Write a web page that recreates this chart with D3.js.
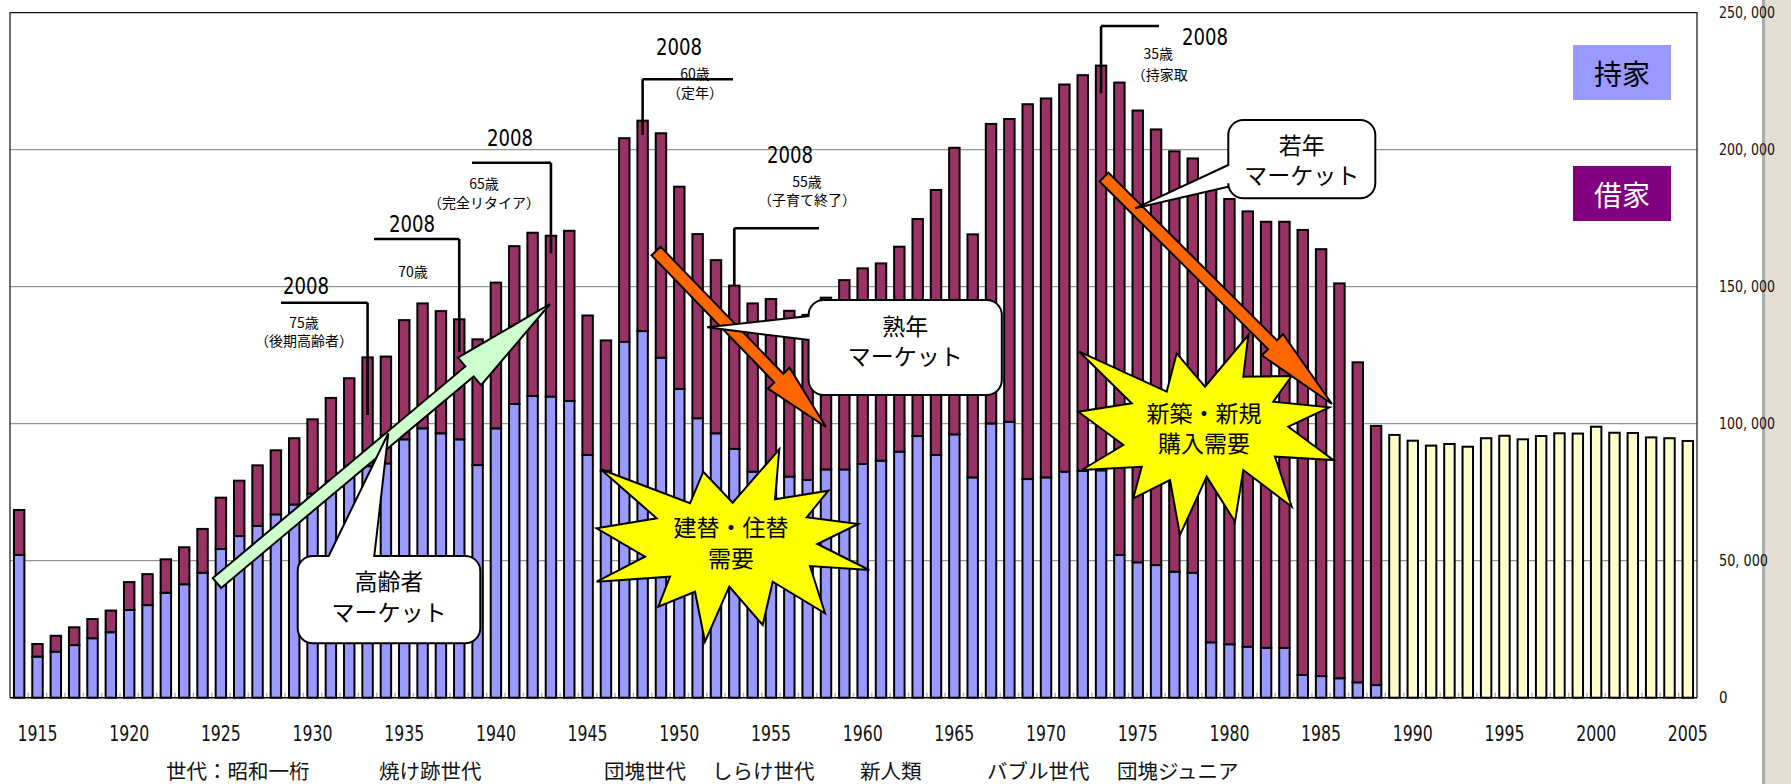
<!DOCTYPE html>
<html>
<head>
<meta charset="utf-8">
<script src="https://cdn.jsdelivr.net/npm/d3@7"></script>
<style>
  html, body { margin: 0; padding: 0; background: #fff; }
  svg { display: block; }
</style>
</head>
<body>
<svg id="chart" width="1791" height="784"></svg>
<script>
// ---- data: households by birth year (owner / renter), later years unsplit ----
const splitYears = [
  1914,1915,1916,1917,1918,1919,1920,1921,1922,1923,
  1924,1925,1926,1927,1928,1929,1930,1931,1932,1933,
  1934,1935,1936,1937,1938,1939,1940,1941,1942,1943,
  1944,1945,1946,1947,1948,1949,1950,1951,1952,1953,
  1954,1955,1956,1957,1958,1959,1960,1961,1962,1963,
  1964,1965,1966,1967,1968,1969,1970,1971,1972,1973,
  1974,1975,1976,1977,1978,1979,1980,1981,1982,1983,
  1984,1985,1986,1987,1988
];
// 持家 (owner-occupied)
const ownerValues = [
  52100,15000,16800,19200,21700,23900,32000,33800,38300,41400,
  45600,54300,59000,62700,66900,70500,74500,79000,82500,84500,
  85500,94300,98300,96500,94300,84900,98300,107200,110100,109900,
  108300,88600,82800,129900,133800,124100,112700,102000,96500,90800,
  82500,82000,80700,79500,83300,83300,85300,86500,89800,95500,
  88600,96100,80400,100100,100700,79800,80400,82500,82800,83000,
  52100,49400,48400,46000,45600,20200,19500,18600,18200,18200,
  8300,7900,7100,5600,4600
];
// 借家 (rented)
const renterValues = [
  16400,4600,5800,6500,7000,7900,10200,11300,12200,13500,
  16000,18700,20200,22100,23400,24200,27100,30400,34100,39700,
  39000,43500,45600,44600,43800,45900,53200,57600,59600,58700,
  62100,50900,47600,74300,76800,81900,73800,67200,63200,59600,
  61400,63500,60500,60200,62700,69100,71400,72000,74800,79200,
  96700,104600,88700,109300,110500,136800,138300,141300,144400,147700,
  172400,164900,159000,153400,151200,166500,162500,158900,155500,155500,
  162400,155800,144100,116800,94600
];
const totalYears = [1989,1990,1991,1992,1993,1994,1995,1996,1997,1998,1999,2000,2001,2002,2003,2004,2005];
const totalValues = [95900,93800,92000,92600,91600,94700,95600,94300,95500,96500,96400,98900,96700,96600,95000,94700,93700];

const xTickYears = [1915,1920,1925,1930,1935,1940,1945,1950,1955,1960,1965,1970,1975,1980,1985,1990,1995,2000,2005];
const yTickValues = [0,50000,100000,150000,200000,250000];

const generationLabels = ["世代：昭和一桁","焼け跡世代","団塊世代","しらけ世代","新人類","バブル世代","団塊ジュニア"];

// "2008" age brackets: birth year that is the given age in 2008
const bracketYears = [1933,1938,1943,1948,1953,1973];
const bracketAges  = ["75歳","70歳","65歳","60歳","55歳","35歳"];
const bracketNotes = ["（後期高齢者）","","（完全リタイア）","（定年）","（子育て終了）","（持家取"];

// ---- layout ----
const CJK = "'Noto Sans CJK JP','Noto Sans',sans-serif";
const NUM = "'Liberation Sans Narrow','DejaVu Sans Condensed','Arial Narrow',sans-serif";
const plot = { left: 10, right: 1697, top: 12.7, bottom: 697.7 };
const colors = { owner: "#9999ff", renter: "#993366", total: "#ffffcc", legendRenter: "#800080" };

const svg = d3.select("#chart");
const allYears = splitYears.concat(totalYears);

const x = d3.scaleBand().domain(allYears).range([plot.left, plot.right]);
const y = d3.scaleLinear().domain([0, 250000]).range([plot.bottom, plot.top]);
const bw = x.bandwidth() * 0.57;
const bx = yr => x(yr) + (x.bandwidth() - bw) / 2;
const cx = yr => x(yr) + x.bandwidth() / 2;

svg.append("rect").attr("width", 1791).attr("height", 784).attr("fill", "#fff");

// window edge strip on the right
svg.append("rect").attr("x", 1762).attr("y", 0).attr("width", 3.5).attr("height", 784).attr("fill", "#ababab");
svg.append("rect").attr("x", 1765.5).attr("y", 0).attr("width", 26).attr("height", 784).attr("fill", "#e3ddd4");

// gridlines
svg.append("g").selectAll("line")
  .data(yTickValues.filter(v => v > 0 && v < 250000))
  .join("line")
  .attr("x1", plot.left).attr("x2", plot.right)
  .attr("y1", d => y(d)).attr("y2", d => y(d))
  .attr("stroke", "#7a7a7a").attr("stroke-width", 1);

// small ticks between bands
svg.append("g").selectAll("line")
  .data(allYears.slice(1))
  .join("line")
  .attr("x1", d => x(d)).attr("x2", d => x(d))
  .attr("y1", plot.bottom - 5).attr("y2", plot.bottom)
  .attr("stroke", "#b4b4b4").attr("stroke-width", 1.5);

// stacked bars
const stacked = splitYears.map((yr, i) => ({ year: yr, owner: ownerValues[i], renter: renterValues[i] }));
const barG = svg.append("g").attr("stroke", "#000").attr("stroke-width", 2);
barG.selectAll("rect.owner").data(stacked).join("rect")
  .attr("class", "owner")
  .attr("x", d => bx(d.year)).attr("width", bw)
  .attr("y", d => y(d.owner)).attr("height", d => y(0) - y(d.owner))
  .attr("fill", colors.owner);
barG.selectAll("rect.renter").data(stacked).join("rect")
  .attr("class", "renter")
  .attr("x", d => bx(d.year)).attr("width", bw)
  .attr("y", d => y(d.owner + d.renter)).attr("height", d => y(d.owner) - y(d.owner + d.renter))
  .attr("fill", colors.renter);
barG.selectAll("rect.total").data(totalYears.map((yr, i) => ({ year: yr, v: totalValues[i] }))).join("rect")
  .attr("class", "total")
  .attr("x", d => bx(d.year)).attr("width", bw)
  .attr("y", d => y(d.v)).attr("height", d => y(0) - y(d.v))
  .attr("fill", colors.total);

// plot frame
svg.append("path")
  .attr("d", `M${plot.left},${plot.bottom}V${plot.top}H${plot.right}V${plot.bottom}`)
  .attr("fill", "none").attr("stroke", "#111").attr("stroke-width", 1.2);
svg.append("line")
  .attr("x1", plot.left).attr("x2", plot.right)
  .attr("y1", plot.bottom).attr("y2", plot.bottom)
  .attr("stroke", "#000").attr("stroke-width", 1.5);

// y axis labels (right side)
const fmt = v => d3.format(",")(v).replace(",", ", ");
const yAxis = svg.append("g").attr("transform", "translate(1719,0)")
  .call(d3.axisRight(y).tickValues(yTickValues).tickSize(0).tickPadding(0).tickFormat(fmt));
yAxis.select(".domain").remove();
yAxis.selectAll("text")
  .attr("x", 0).attr("dy", "0.35em")
  .attr("text-anchor", "start")
  .attr("font-family", NUM).attr("font-size", 15).attr("fill", "#111")
  .each(function (d) {
    const s = fmt(d);
    if (s.length > 1) d3.select(this).attr("textLength", s.length * 7).attr("lengthAdjust", "spacingAndGlyphs");
  });

// x axis labels
const xAxis = svg.append("g").attr("transform", `translate(0,${plot.bottom})`)
  .call(d3.axisBottom(x).tickValues(xTickYears).tickSize(0).tickPadding(0));
xAxis.select(".domain").remove();
xAxis.selectAll("text")
  .attr("y", 36.3).attr("dy", "0.35em")
  .attr("font-family", NUM).attr("font-size", 21).attr("fill", "#111")
  .attr("textLength", 40).attr("lengthAdjust", "spacingAndGlyphs");

// generation labels
const genX = [166, 379, 604, 712, 860, 987, 1117];
svg.append("g").selectAll("text").data(generationLabels).join("text")
  .attr("x", (d, i) => genX[i]).attr("y", 770)
  .attr("dominant-baseline", "central")
  .attr("font-family", CJK).attr("font-size", 20.5).attr("fill", "#111")
  .text(d => d);

// multi-line text helper: one <text> element, one <tspan> per line
function multiText(g, lines, xs, ys, opts) {
  const t = g.append("text")
    .attr("font-family", opts.family).attr("font-size", opts.size).attr("fill", opts.fill || "#000")
    .attr("dominant-baseline", "central");
  lines.forEach((s, k) => {
    t.append("tspan")
      .attr("x", xs[k]).attr("y", ys[k])
      .attr("text-anchor", (opts.anchors && opts.anchors[k]) || "middle")
      .attr("dominant-baseline", "central")
      .text(s);
  });
  return t;
}

// ---- "2008" brackets ----
const bracketLayout = [
  { hx0: 281, hy: 302.7, vy1: 415,  yearPos: [306, 286],   agePos: [304, 321.7],  notePos: [304, 340] },
  { hx0: 374, hy: 239,   vy1: 351.7, yearPos: [412, 224],  agePos: [413, 270.7],  notePos: null },
  { hx0: 472, hy: 162.7, vy1: 253.3, yearPos: [510, 138],  agePos: [484, 182.7],  notePos: [484, 202.3] },
  { hx1: 733, hy: 79.3,  vy1: 135,  yearPos: [679, 47],    agePos: [695, 72.5],   notePos: [695, 91.5] },
  { hx1: 819, hy: 228.3, vy1: 285,  yearPos: [790, 154.5], agePos: [807, 181],    notePos: [807, 199] },
  { hx1: 1159, hy: 26,   vy1: 93.3, yearPos: [1205, 37],   agePos: [1158.3, 53],  notePos: [1131.7, 74], noteStart: true }
];
const bracketG = svg.append("g");
bracketYears.forEach((yr, i) => {
  const L = bracketLayout[i];
  const vx = cx(yr);
  const h0 = L.hx0 !== undefined ? L.hx0 : vx;
  const h1 = L.hx1 !== undefined ? L.hx1 : vx;
  bracketG.append("path")
    .attr("d", `M${h0},${L.hy}H${h1}M${vx},${L.hy}V${L.vy1}`)
    .attr("fill", "none").attr("stroke", "#000").attr("stroke-width", 2.6);
  bracketG.append("text")
    .attr("x", L.yearPos[0]).attr("y", L.yearPos[1])
    .attr("text-anchor", "middle").attr("dominant-baseline", "central")
    .attr("font-family", NUM).attr("font-size", 23).attr("fill", "#000")
    .attr("textLength", 46).attr("lengthAdjust", "spacingAndGlyphs")
    .text("2008");
  const lines = [bracketAges[i]], xs = [L.agePos[0]], ys = [L.agePos[1]], anchors = ["middle"];
  if (L.notePos && bracketNotes[i]) {
    lines.push(bracketNotes[i]); xs.push(L.notePos[0]); ys.push(L.notePos[1]);
    anchors.push(L.noteStart ? "start" : "middle");
  }
  multiText(bracketG, lines, xs, ys, { family: CJK, size: 14, anchors });
});

// ---- starbursts ----
const bursts = [
  { pts: [[600.7,469.3],[690,503.3],[703.3,471.7],[732.7,502.7],[779.3,449.3],[775,499.3],[828.3,490.7],[806.7,517.3],
          [858.3,524],[817.3,544],[869.3,570],[810,566],[825,613.3],[772.7,581.7],[762.7,625],[729.3,586.7],
          [705,641.7],[695,591.7],[658.3,606.7],[670,576.7],[596.7,581.7],[645,556.7],[596.7,528.3],[656.7,518.3]],
    lines: ["建替・住替", "需要"], cx: 731, ys: [526, 556.5] },
  { pts: [[1079.3,351.7],[1166.7,391.7],[1176.7,353.3],[1205,386.7],[1248.3,335],[1243.3,376.7],[1291.7,376],[1273.3,401.7],
          [1329.3,407.3],[1288.3,426.7],[1333.3,460],[1275,456.7],[1291.7,506.7],[1243.3,470],[1235,521.7],[1206.7,476.7],
          [1180,535],[1170,480],[1133.3,498.3],[1141.7,466.7],[1081.7,470],[1123.3,445],[1078.3,411.7],[1131.7,403.3]],
    lines: ["新築・新規", "購入需要"], cx: 1204, ys: [411.5, 442] }
];

// ---- block arrows ----
function arrowPoints(t, h, sw, hw, hl) {
  const dx = h[0] - t[0], dy = h[1] - t[1];
  const len = Math.hypot(dx, dy);
  const ux = dx / len, uy = dy / len, nx = -uy, ny = ux;
  const bxp = h[0] - ux * hl, byp = h[1] - uy * hl;
  const p = (ax, ay, s) => [ax + nx * s, ay + ny * s];
  return [p(t[0], t[1], sw / 2), p(bxp, byp, sw / 2), p(bxp, byp, hw / 2), h,
          p(bxp, byp, -hw / 2), p(bxp, byp, -sw / 2), p(t[0], t[1], -sw / 2)];
}
const arrows = [
  { tail: [217, 583], tip: [550, 304], sw: 13, hw: 36, hl: 105, fill: "#ccffcc" },
  { tail: [656, 251], tip: [826, 427], sw: 12.5, hw: 30, hl: 68, fill: "#ff6600" },
  { tail: [1104, 177], tip: [1332, 404], sw: 12.5, hw: 30, hl: 84, fill: "#ff6600" }
];

const burstG = svg.append("g");
bursts.forEach(b => {
  burstG.append("polygon")
    .attr("points", b.pts.map(p => p.join(",")).join(" "))
    .attr("fill", "#ffff00").attr("stroke", "#000").attr("stroke-width", 2).attr("stroke-linejoin", "miter");
});
const arrowG = svg.append("g");
arrows.forEach(a => {
  arrowG.append("polygon")
    .attr("points", arrowPoints(a.tail, a.tip, a.sw, a.hw, a.hl).map(p => p.join(",")).join(" "))
    .attr("fill", a.fill).attr("stroke", "#000").attr("stroke-width", 2).attr("stroke-linejoin", "miter");
});
const burstTextG = svg.append("g");
bursts.forEach(b => {
  multiText(burstTextG, b.lines, [b.cx, b.cx], b.ys, { family: CJK, size: 23 });
});

// ---- callouts (rounded box with pointer) ----
function calloutPath(c) {
  const { x0, y0, x1, y1, r, side, a, b, tip } = c;
  let d = `M${x0 + r},${y0}`;
  if (side === "top") d += `L${a},${y0}L${tip[0]},${tip[1]}L${b},${y0}`;
  d += `L${x1 - r},${y0}A${r},${r} 0 0 1 ${x1},${y0 + r}`;
  d += `L${x1},${y1 - r}A${r},${r} 0 0 1 ${x1 - r},${y1}`;
  d += `L${x0 + r},${y1}A${r},${r} 0 0 1 ${x0},${y1 - r}`;
  if (side === "left") d += `L${x0},${b}L${tip[0]},${tip[1]}L${x0},${a}`;
  d += `L${x0},${y0 + r}A${r},${r} 0 0 1 ${x0 + r},${y0}Z`;
  return d;
}
const callouts = [
  { x0: 297.7, y0: 556, x1: 480.3, y1: 643.3, r: 15, side: "top", a: 328.7, b: 374.3, tip: [388.3, 433.3],
    lines: ["高齢者", "マーケット"], ys: [580, 610.5] },
  { x0: 808.6, y0: 300, x1: 1001.8, y1: 395, r: 15, side: "left", a: 316, b: 340, tip: [707.2, 327.3],
    lines: ["熟年", "マーケット"], ys: [324.5, 355] },
  { x0: 1228.3, y0: 120, x1: 1375.3, y1: 198.3, r: 15, side: "left", a: 165, b: 186.7, tip: [1135, 208.3],
    lines: ["若年", "マーケット"], ys: [143.5, 174] }
];
const calloutG = svg.append("g");
callouts.forEach(c => {
  calloutG.append("path").attr("d", calloutPath(c))
    .attr("fill", "#fff").attr("stroke", "#000").attr("stroke-width", 2).attr("stroke-linejoin", "miter");
  const mid = (c.x0 + c.x1) / 2;
  multiText(calloutG, c.lines, [mid, mid], c.ys, { family: CJK, size: 23 });
});

// ---- legend ----
const legendItems = [
  { label: "持家", fill: colors.owner, text: "#000", y0: 45 },
  { label: "借家", fill: colors.legendRenter, text: "#fff", y0: 166 }
];
const legG = svg.append("g");
legendItems.forEach(it => {
  legG.append("rect").attr("x", 1573).attr("y", it.y0).attr("width", 98).attr("height", 55).attr("fill", it.fill);
  legG.append("text")
    .attr("x", 1622).attr("y", it.y0 + 27.5)
    .attr("text-anchor", "middle").attr("dominant-baseline", "central")
    .attr("font-family", CJK).attr("font-size", 28).attr("fill", it.text)
    .text(it.label);
});
</script>
</body>
</html>
